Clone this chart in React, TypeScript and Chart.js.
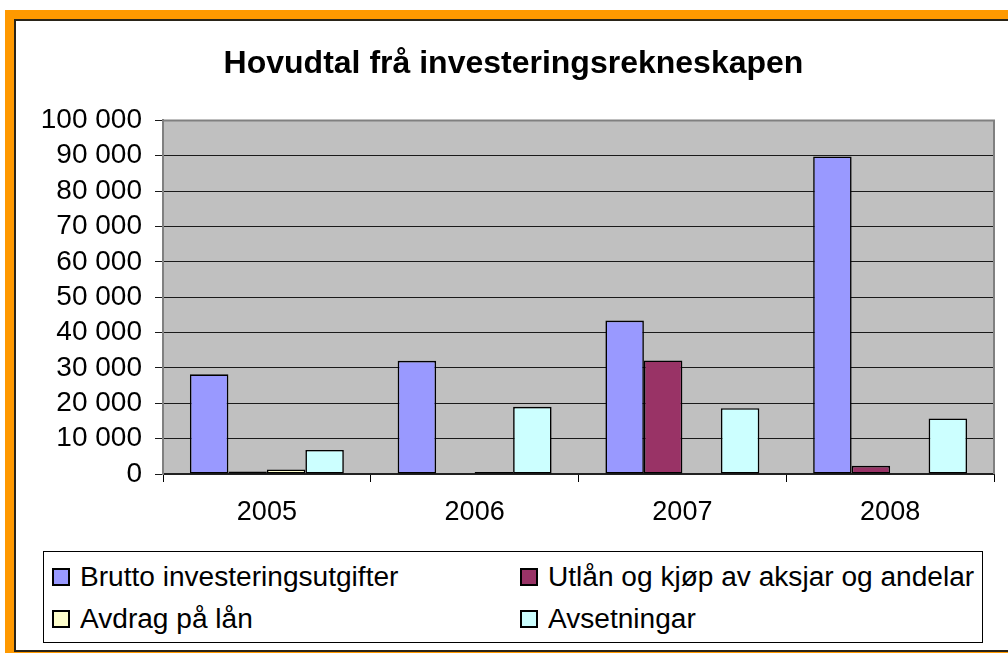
import React, { useEffect, useRef } from 'react';
import { Chart, registerables } from 'chart.js';

Chart.register(...registerables);

const categories = ['2005', '2006', '2007', '2008'];
const seriesNames = [
  'Brutto investeringsutgifter',
  'Utlån og kjøp av aksjar og andelar',
  'Avdrag på lån',
  'Avsetningar',
];
const brutto = [28200, 32000, 43400, 89800];
const utlan = [700, 0, 32100, 2300];
const avdrag = [1300, 600, 0, 0];
const avsetningar = [6800, 19000, 18600, 15700];
const seriesValues = [brutto, utlan, avdrag, avsetningar];
const seriesColors = ['#9999FF', '#993366', '#FFFFCC', '#CCFFFF'];
const yMin = 0;
const yMax = 100000;
const yStep = 10000;
const titleText = 'Hovudtal frå investeringsrekneskapen';

const FONT = '"Liberation Sans", Arial, Helvetica, sans-serif';

const fmt = (v: number) => String(v).replace(/\B(?=(\d{3})+(?!\d))/g, ' ');

const plotFrame = {
  id: 'plotFrame',
  beforeDraw(chart: any) {
    const { ctx, chartArea } = chart;
    ctx.save();
    ctx.fillStyle = '#C0C0C0';
    ctx.fillRect(chartArea.left, chartArea.top, chartArea.right - chartArea.left, chartArea.bottom - chartArea.top);
    ctx.restore();
  },
  afterDraw(chart: any) {
    const { ctx, chartArea } = chart;
    ctx.save();
    ctx.strokeStyle = '#808080';
    ctx.lineWidth = 2;
    ctx.beginPath();
    ctx.moveTo(chartArea.left, chartArea.bottom);
    ctx.lineTo(chartArea.left, chartArea.top);
    ctx.lineTo(chartArea.right, chartArea.top);
    ctx.lineTo(chartArea.right, chartArea.bottom);
    ctx.stroke();
    ctx.restore();
  },
};

export default function App() {
  const ref = useRef<HTMLCanvasElement | null>(null);

  useEffect(() => {
    document.body.style.margin = '0';
    document.body.style.overflow = 'hidden';
    if (!ref.current) return;
    const chart = new Chart(ref.current, {
      type: 'bar',
      data: {
        labels: categories,
        datasets: seriesNames.map((name, i) => ({
          label: name,
          data: seriesValues[i],
          backgroundColor: seriesColors[i],
          borderColor: '#000000',
          borderWidth: 1.6,
          borderSkipped: false,
          categoryPercentage: 0.741,
          barPercentage: 1,
        })),
      },
      options: {
        animation: false,
        responsive: false,
        maintainAspectRatio: false,
        devicePixelRatio: 1,
        layout: { padding: { left: 33, right: 14, top: 45, bottom: 109 } },
        plugins: {
          legend: { display: false },
          tooltip: { enabled: false },
          title: {
            display: true,
            text: titleText,
            color: '#000000',
            font: { family: FONT, size: 32, weight: 'bold', lineHeight: 1.2 },
            padding: { top: 0, bottom: 37 },
          },
        },
        scales: {
          x: {
            grid: {
              display: true,
              drawOnChartArea: false,
              drawTicks: true,
              tickLength: 8,
              color: '#000000',
              lineWidth: 1,
              offset: true,
            },
            border: { display: true, color: '#222222', width: 2 },
            ticks: {
              color: '#000000',
              font: { family: FONT, size: 27 },
              padding: 14,
              maxRotation: 0,
            },
            afterFit: (scale: any) => {
              scale.height = 70;
            },
          },
          y: {
            min: yMin,
            max: yMax,
            grid: {
              color: '#1a1a1a',
              lineWidth: 1,
              drawTicks: true,
              tickLength: 8,
            },
            border: { display: true, color: '#808080', width: 2 },
            ticks: {
              stepSize: yStep,
              autoSkip: false,
              color: '#000000',
              font: { family: FONT, size: 28 },
              padding: 13,
              callback: (v: any) => fmt(Number(v)),
            },
            afterFit: (scale: any) => {
              scale.width = 130;
            },
          },
        },
      },
      plugins: [plotFrame],
    });
    return () => chart.destroy();
  }, []);

  const legendCols = [52, 520];
  const legendRows = [568, 610];

  return (
    <div style={{ position: 'absolute', left: 0, top: 0, width: 1008, height: 653, overflow: 'hidden', background: '#ffffff' }}>
      <div style={{ position: 'absolute', left: 5, top: 10, width: 1003, height: 643, background: '#FF9900' }} />
      <div
        style={{
          position: 'absolute',
          left: 14,
          top: 19,
          width: 1000,
          height: 633,
          boxSizing: 'border-box',
          background: '#ffffff',
          borderTop: '2px solid #2a2418',
          borderLeft: '2px solid #2a2418',
          borderBottom: '2px solid #2a2418',
        }}
      />
      <canvas ref={ref} width={1008} height={653} style={{ position: 'absolute', left: 0, top: 0, width: 1008, height: 653 }} />
      <div
        style={{
          position: 'absolute',
          left: 43,
          top: 551,
          width: 940,
          height: 92,
          boxSizing: 'border-box',
          border: '1px solid #000000',
          background: '#ffffff',
        }}
      />
      {seriesNames.map((name, i) => {
        const col = i % 2;
        const row = Math.floor(i / 2);
        return (
          <div
            key={name}
            style={{
              position: 'absolute',
              left: legendCols[col],
              top: legendRows[row],
              height: 18,
              display: 'flex',
              alignItems: 'center',
              whiteSpace: 'nowrap',
            }}
          >
            <span
              style={{
                display: 'inline-block',
                width: 18,
                height: 18,
                boxSizing: 'border-box',
                border: '2px solid #000000',
                background: seriesColors[i],
              }}
            />
            <span
              style={{
                marginLeft: 10,
                fontFamily: FONT,
                fontSize: 27,
                lineHeight: '18px',
                color: '#000000',
                display: 'inline-block',
                transform: 'scaleX(1.04)',
                transformOrigin: 'left center',
              }}
            >
              {name}
            </span>
          </div>
        );
      })}
    </div>
  );
}
